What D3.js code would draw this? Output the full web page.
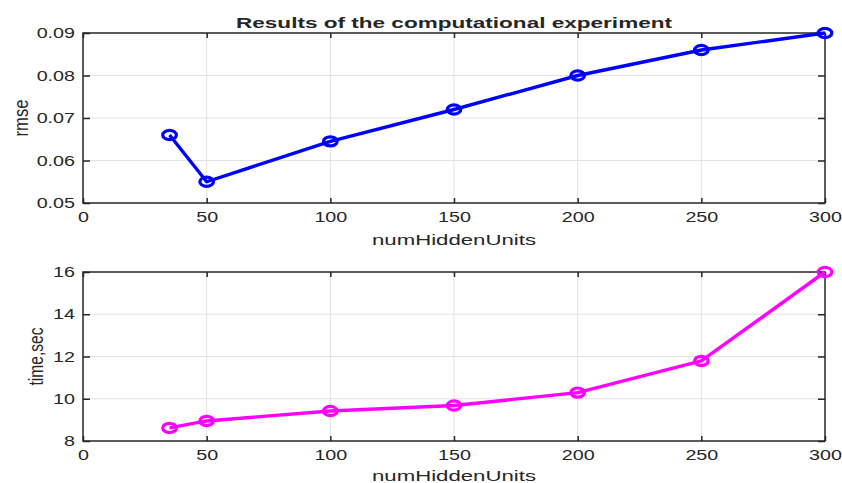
<!DOCTYPE html>
<html>
<head>
<meta charset="utf-8">
<script src="https://cdn.jsdelivr.net/npm/d3@7"></script>
<style>
  body { margin: 0; background: #fff; }
  svg { display: block; }
  text { font-family: 'Liberation Sans', Arial, Helvetica, sans-serif; fill: #262626; }
</style>
</head>
<body>
<svg id="chart" width="842" height="483"></svg>
<script>
// data
const numHiddenUnits = [35, 50, 100, 150, 200, 250, 300];
const rmseValues = [0.066, 0.055, 0.0645, 0.072, 0.080, 0.086, 0.090];
const timeValues = [8.62, 8.95, 9.42, 9.68, 10.29, 11.79, 16.0];
const xTicks = [0, 50, 100, 150, 200, 250, 300];
const rmseTicks = [0.05, 0.06, 0.07, 0.08, 0.09];
const timeTicks = [8, 10, 12, 14, 16];

const stretch = 1.36; // the picture is wider than it is tall, text too
const left = 83, right = 825;

const svg = d3.select('#chart');

const xScale = d3.scaleLinear().domain([0, 300]).range([left, right]);

// Title
svg.append('text')
  .attr('x', (left + right) / 2)
  .attr('y', 28)
  .attr('text-anchor', 'middle')
  .attr('font-weight', 'bold')
  .attr('font-size', 15)
  .attr('textLength', 436)
  .attr('lengthAdjust', 'spacingAndGlyphs')
  .text('Results of the computational experiment');

function drawPanel({ top, bottom, yDomain, yTicks, yFormat, values, color, yLabel, yLabelX, yLabelLen, xLabelY }) {
  const yScale = d3.scaleLinear().domain(yDomain).range([bottom, top]);
  const g = svg.append('g');

  // Grid
  g.append('g')
    .selectAll('line')
    .data(xTicks.slice(1, -1))
    .join('line')
    .attr('x1', d => xScale(d)).attr('x2', d => xScale(d))
    .attr('y1', top).attr('y2', bottom)
    .attr('stroke', '#e3e3e3').attr('stroke-width', 1);
  g.append('g')
    .selectAll('line')
    .data(yTicks.slice(1, -1))
    .join('line')
    .attr('x1', left).attr('x2', right)
    .attr('y1', d => yScale(d)).attr('y2', d => yScale(d))
    .attr('stroke', '#e3e3e3').attr('stroke-width', 1);

  // Axes, ticks inside like MATLAB
  const xAxis = g.append('g')
    .attr('transform', `translate(0,${bottom})`)
    .call(d3.axisBottom(xScale).tickValues(xTicks).tickSizeInner(-5).tickSizeOuter(0).tickPadding(9));
  const xTop = g.append('g')
    .attr('transform', `translate(0,${top})`)
    .call(d3.axisTop(xScale).tickValues(xTicks).tickSizeInner(-5).tickSizeOuter(0).tickFormat(''));
  const yAxis = g.append('g')
    .attr('transform', `translate(${left},0)`)
    .call(d3.axisLeft(yScale).tickValues(yTicks).tickSizeInner(-7).tickSizeOuter(0).tickFormat(yFormat));
  const yRight = g.append('g')
    .attr('transform', `translate(${right},0)`)
    .call(d3.axisRight(yScale).tickValues(yTicks).tickSizeInner(-7).tickSizeOuter(0).tickFormat(''));

  [xAxis, xTop, yAxis, yRight].forEach(a => {
    a.select('.domain').remove();
    a.selectAll('.tick line').attr('stroke', '#262626').attr('stroke-width', 1.5);
  });
  xAxis.selectAll('text')
    .attr('font-size', 14.5)
    .attr('fill', '#262626')
    .attr('transform', `scale(${stretch},1)`);
  yAxis.selectAll('text')
    .attr('font-size', 14.5)
    .attr('fill', '#262626')
    .attr('x', -8 / stretch)
    .attr('transform', `scale(${stretch},1)`);
  [xTop, yRight].forEach(a => a.selectAll('text').remove());

  // Box
  g.append('rect')
    .attr('x', left).attr('y', top)
    .attr('width', right - left).attr('height', bottom - top)
    .attr('fill', 'none').attr('stroke', '#262626').attr('stroke-width', 1.5);

  // Line and markers
  const line = d3.line().x((d, i) => xScale(numHiddenUnits[i])).y(d => yScale(d));
  g.append('path')
    .datum(values)
    .attr('d', line)
    .attr('fill', 'none')
    .attr('stroke', color)
    .attr('stroke-width', 3.4)
    .attr('stroke-linejoin', 'round');
  g.selectAll('ellipse')
    .data(values)
    .join('ellipse')
    .attr('cx', (d, i) => xScale(numHiddenUnits[i]))
    .attr('cy', d => yScale(d))
    .attr('rx', 6.8).attr('ry', 4.6)
    .attr('fill', 'none')
    .attr('stroke', color)
    .attr('stroke-width', 3.2);

  // Labels
  svg.append('text')
    .attr('x', (left + right) / 2)
    .attr('y', xLabelY)
    .attr('text-anchor', 'middle')
    .attr('font-size', 15)
    .attr('textLength', 164)
    .attr('lengthAdjust', 'spacingAndGlyphs')
    .text('numHiddenUnits');
  svg.append('text')
    .attr('transform', `translate(${yLabelX},${(top + bottom) / 2}) rotate(-90)`)
    .attr('text-anchor', 'middle')
    .attr('font-size', 20)
    .attr('textLength', yLabelLen)
    .attr('lengthAdjust', 'spacingAndGlyphs')
    .text(yLabel);
}

drawPanel({
  top: 33, bottom: 203,
  yDomain: [0.05, 0.09], yTicks: rmseTicks, yFormat: d3.format('.2f'),
  values: rmseValues, color: '#0000ff',
  yLabel: 'rmse', yLabelX: 28, yLabelLen: 37, xLabelY: 245
});

drawPanel({
  top: 272, bottom: 441,
  yDomain: [8, 16], yTicks: timeTicks, yFormat: d3.format('d'),
  values: timeValues, color: '#ff00ff',
  yLabel: 'time,sec', yLabelX: 43, yLabelLen: 58, xLabelY: 481
});
</script>
</body>
</html>
